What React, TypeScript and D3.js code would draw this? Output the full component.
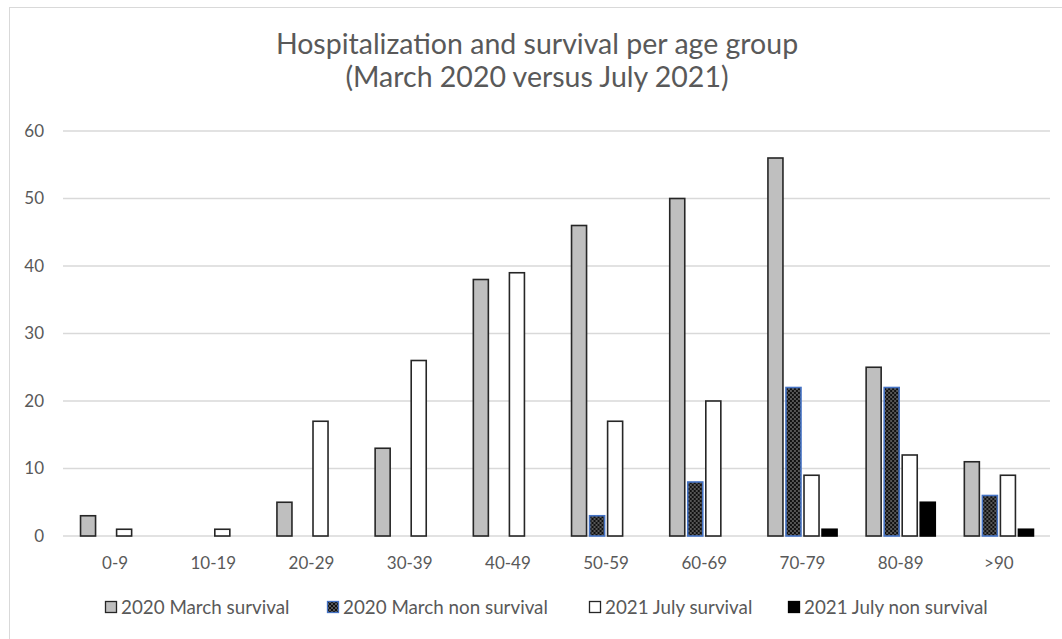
import React, {useRef, useEffect} from 'react';
import * as d3 from 'd3';

const width = 1062;
const height = 639;
const fontFamily = 'Lato, "Liberation Sans", sans-serif';

const ageGroups = ['0-9', '10-19', '20-29', '30-39', '40-49', '50-59', '60-69', '70-79', '80-89', '>90'];
const seriesNames = ['2020 March survival', '2020 March non survival', '2021 July survival', '2021 July non survival'];
const march2020Survival = [3, 0, 5, 13, 38, 46, 50, 56, 25, 11];
const march2020NonSurvival = [0, 0, 0, 0, 0, 3, 8, 22, 22, 6];
const july2021Survival = [1, 1, 17, 26, 39, 17, 20, 9, 12, 9];
const july2021NonSurvival = [0, 0, 0, 0, 0, 0, 0, 1, 5, 1];
const yTicks = [0, 10, 20, 30, 40, 50, 60];
const titleLines = ['Hospitalization and survival per age group', '(March 2020 versus July 2021)'];

const seriesValues = [march2020Survival, march2020NonSurvival, july2021Survival, july2021NonSurvival];

const styles = [
  {fill: '#bfbfbf', stroke: '#262626'},
  {fill: 'url(#dots)', stroke: '#4472c4'},
  {fill: '#ffffff', stroke: '#262626'},
  {fill: '#000000', stroke: '#000000'},
];

const draw = (container: SVGSVGElement) => {
  const svg = d3.select(container);
  svg.selectAll('*').remove();

  const defs = svg.append('defs');
  const pat = defs
  .append('pattern')
  .attr('id', 'dots')
  .attr('patternUnits', 'userSpaceOnUse')
  .attr('width', 4)
  .attr('height', 4);
  pat.append('rect').attr('width', 4).attr('height', 4).attr('fill', '#111');
  pat.append('circle').attr('cx', 1).attr('cy', 1).attr('r', 0.7).attr('fill', '#ccc');
  pat.append('circle').attr('cx', 3).attr('cy', 3).attr('r', 0.7).attr('fill', '#ccc');

  svg.append('rect').attr('width', width).attr('height', height).attr('fill', '#fff');
  svg
  .append('rect')
  .attr('x', 9.5)
  .attr('y', 7.5)
  .attr('width', width)
  .attr('height', height)
  .attr('fill', 'none')
  .attr('stroke', '#d9d9d9');

  const x0 = d3.scaleBand().domain(ageGroups).range([66, 1048]).paddingInner(0.296).paddingOuter(0.148);
  const x1 = d3
  .scaleBand()
  .domain(seriesNames)
  .range([0, x0.bandwidth()])
  .paddingInner(0.167);
  const y = d3.scaleLinear().domain([0, 60]).range([536, 131]);

  // gridlines
  svg
  .append('g')
  .selectAll('line')
  .data(yTicks)
  .enter()
  .append('line')
  .attr('x1', 63)
  .attr('x2', 1050)
  .attr('y1', d => y(d))
  .attr('y2', d => y(d))
  .attr('stroke', '#d9d9d9')
  .attr('stroke-width', 1.3);

  svg
  .append('g')
  .selectAll('text')
  .data(yTicks)
  .enter()
  .append('text')
  .attr('x', 44)
  .attr('y', d => y(d))
  .attr('dy', '0.35em')
  .attr('text-anchor', 'end')
  .attr('fill', '#595959')
  .style('font-family', fontFamily)
  .style('font-size', '17px')
  .text(d => d);

  // bars
  const groups = svg
  .append('g')
  .selectAll('g')
  .data(ageGroups)
  .enter()
  .append('g')
  .attr('transform', d => `translate(${x0(d)},0)`);

  groups
  .selectAll('rect')
  .data((_, i) => seriesNames.map((s, j) => ({s, j, v: seriesValues[j][i]})).filter(d => d.v > 0))
  .enter()
  .append('rect')
  .attr('x', d => x1(d.s)!)
  .attr('width', x1.bandwidth())
  .attr('y', d => y(d.v))
  .attr('height', d => y(0) - y(d.v))
  .attr('fill', d => styles[d.j].fill)
  .attr('stroke', d => styles[d.j].stroke)
  .attr('stroke-width', 1.6);

  // x labels
  svg
  .append('g')
  .selectAll('text')
  .data(ageGroups)
  .enter()
  .append('text')
  .attr('x', d => x0(d)! + x0.bandwidth() / 2)
  .attr('y', 563)
  .attr('dy', '0.35em')
  .attr('text-anchor', 'middle')
  .attr('fill', '#595959')
  .style('font-family', fontFamily)
  .style('font-size', '17px')
  .text(d => d);

  // title
  svg
  .append('g')
  .selectAll('text')
  .data(titleLines)
  .enter()
  .append('text')
  .attr('x', 537)
  .attr('y', (_, i) => 54 + i * 33)
  .attr('text-anchor', 'middle')
  .attr('fill', '#595959')
  .style('font-family', fontFamily)
  .style('font-size', '28.5px')
  .text(d => d);

  // legend
  const legendX = [105, 327, 589, 788];
  const legend = svg
  .append('g')
  .selectAll('g')
  .data(seriesNames)
  .enter()
  .append('g')
  .attr('transform', (_, i) => `translate(${legendX[i]},607)`);
  legend
  .append('rect')
  .attr('x', 0.5)
  .attr('y', -5.5)
  .attr('width', 11)
  .attr('height', 11)
  .attr('fill', (_, i) => styles[i].fill)
  .attr('stroke', (_, i) => styles[i].stroke)
  .attr('stroke-width', 1.3);
  legend
  .append('text')
  .attr('x', 16)
  .attr('dy', '0.35em')
  .attr('fill', '#595959')
  .style('font-family', fontFamily)
  .style('font-size', '18.8px')
  .text(d => d);
};

export default function App() {
  const svgRef = useRef<SVGSVGElement>(null);
  useEffect(() => {
    if (svgRef.current) draw(svgRef.current);
  }, []);
  return (
    <div style={{position: 'absolute', left: 0, top: 0}}>
      <svg ref={svgRef} width={width} height={height} style={{display: 'block'}} />
    </div>
  );
}
